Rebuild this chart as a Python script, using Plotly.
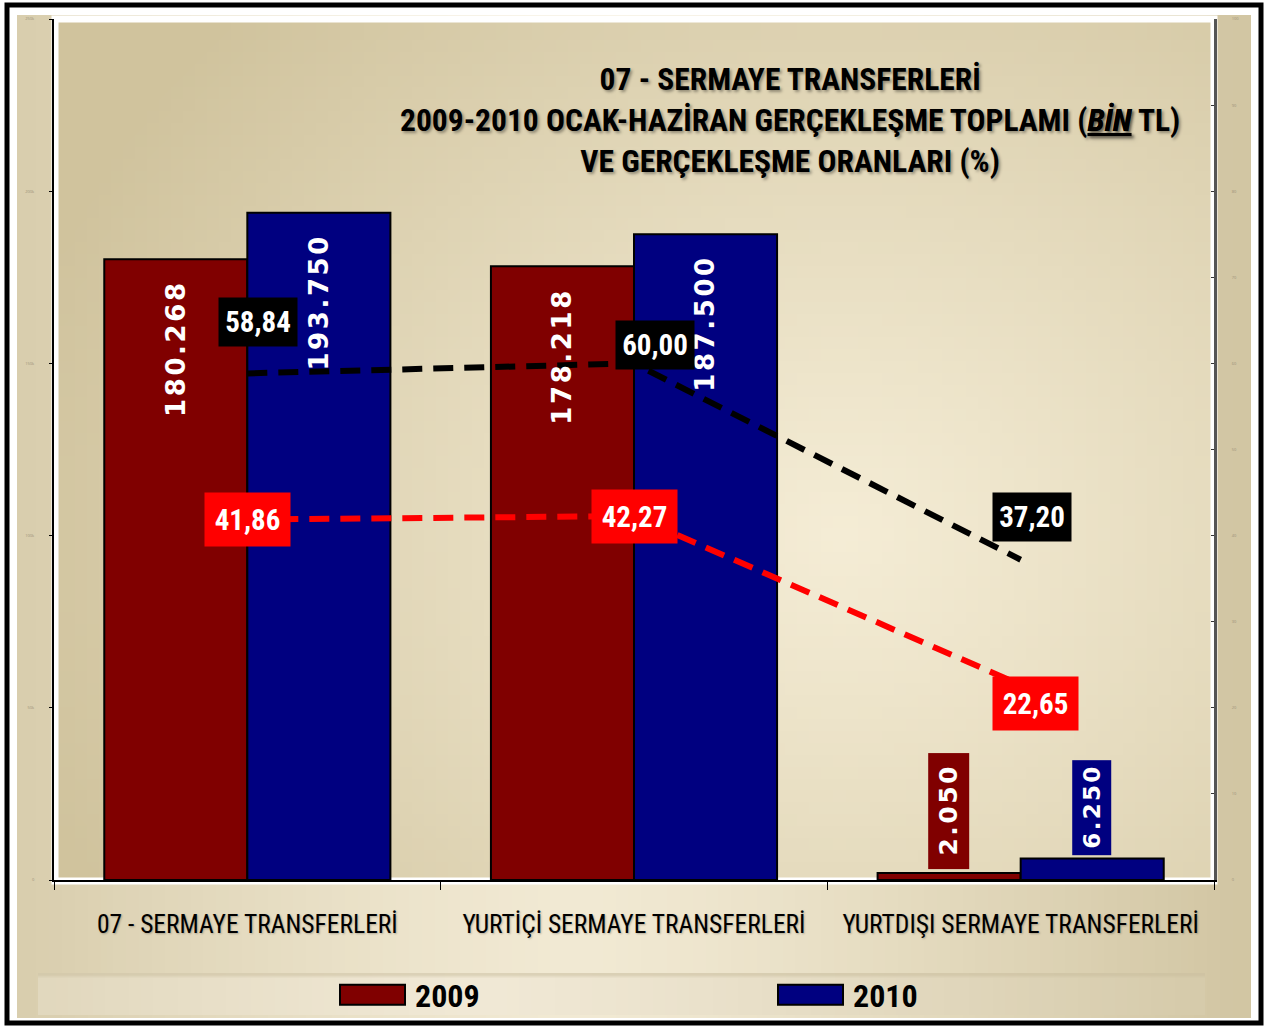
import plotly.graph_objects as go
import zlib, struct, base64, math

# ---------------- data ----------------
categories = ["07 - SERMAYE TRANSFERLERİ", "YURTİÇİ SERMAYE TRANSFERLERİ", "YURTDIŞI SERMAYE TRANSFERLERİ"]
values_2009 = [180268, 178218, 2050]
values_2010 = [193750, 187500, 6250]
labels_2009 = ["180.268", "178.218", "2.050"]
labels_2010 = ["193.750", "187.500", "6.250"]
rate_2009 = [41.86, 42.27, 22.65]
rate_2010 = [58.84, 60.00, 37.20]
rate_labels_2009 = ["41,86", "42,27", "22,65"]
rate_labels_2010 = ["58,84", "60,00", "37,20"]
y_ticks = [0, 50000, 100000, 150000, 200000, 250000]
y2_ticks = [0, 10, 20, 30, 40, 50, 60, 70, 80, 90, 100]
title_text = ("07 - SERMAYE TRANSFERLERİ<br>2009-2010 OCAK-HAZİRAN GERÇEKLEŞME TOPLAMI (<i><u>BİN</u></i> TL)"
              "<br>VE GERÇEKLEŞME ORANLARI (%)")

# ---------------- styling ----------------
W, H = 1267, 1028
ML, MR, MT, MB = 54, 53, 19, 148
PW, PH = W - ML - MR, H - MT - MB
C2009, C2010 = "#800000", "#000080"
NARROW = "Liberation Sans Narrow, Arial Narrow, Roboto Condensed, sans-serif"
WIDE = "DejaVu Sans, Verdana, sans-serif"
HAIR = "\u200a"


def fx(px):
    return (px - ML) / PW


def fy(py):
    return (H - MB - py) / PH


def png_uri(w, h, fn):
    raw = bytearray()
    for j in range(h):
        raw.append(0)
        for i in range(w):
            r, g, b = fn(i / (w - 1), j / (h - 1))
            raw += bytes((int(r), int(g), int(b)))

    def chunk(t, d):
        return struct.pack(">I", len(d)) + t + d + struct.pack(">I", zlib.crc32(t + d) & 0xffffffff)

    png = (b"\x89PNG\r\n\x1a\n" + chunk(b"IHDR", struct.pack(">IIBBBBB", w, h, 8, 2, 0, 0, 0))
           + chunk(b"IDAT", zlib.compress(bytes(raw))) + chunk(b"IEND", b""))
    return "data:image/png;base64," + base64.b64encode(png).decode()


LIGHT = (245, 237, 214)
DARK = (208, 195, 157)


def lerp(a, b, t):
    return tuple(a[k] + (b[k] - a[k]) * t for k in range(3))


def plot_grad(u, v):
    d = math.sqrt(((u - 0.68) / 0.75) ** 2 + ((v - 0.6) / 0.9) ** 2)
    t = min(1.0, d) ** 1.1
    return lerp(LIGHT, DARK, t)


def panel_grad(u, v):
    d = abs(u - 0.45) / 0.55
    t = min(1.0, d) ** 1.3
    return lerp((242, 234, 212), (210, 198, 163), t)


def band_grad(u, v):
    d = abs(u - 0.38) / 0.62
    t = min(1.0, d) ** 1.2
    c = lerp((241, 233, 214), (214, 203, 171), t)
    if v < 0.08:
        c = lerp(c, (200, 188, 155), 0.5)
    return c


images = [
    dict(source=png_uri(96, 8, panel_grad), xref="paper", yref="paper",
         x=fx(17), y=fy(15), sizex=fx(1251) - fx(17), sizey=fy(15) - fy(1018),
         sizing="stretch", layer="below"),
    dict(source=png_uri(96, 12, band_grad), xref="paper", yref="paper",
         x=fx(38), y=fy(973), sizex=fx(1205) - fx(38), sizey=fy(973) - fy(1015),
         sizing="stretch", layer="below"),
    dict(source=png_uri(96, 72, plot_grad), xref="paper", yref="paper",
         x=fx(57), y=fy(22), sizex=fx(1212) - fx(57), sizey=fy(22) - fy(879),
         sizing="stretch", layer="below"),
]

shapes = [
    dict(type="rect", xref="paper", yref="paper", x0=fx(55), x1=fx(1214), y0=fy(881), y1=fy(19),
         line=dict(color="white", width=7), fillcolor="rgba(0,0,0,0)", layer="below"),
    dict(type="rect", xref="paper", yref="paper", x0=fx(7), x1=fx(1261), y0=fy(1023), y1=fy(5),
         line=dict(color="black", width=5), fillcolor="rgba(0,0,0,0)", layer="above"),
]

fig = go.Figure()
fig.add_trace(go.Bar(name="2009", x=categories, y=values_2009, marker=dict(color=C2009, line=dict(color="black", width=2)),
                     hoverinfo="skip"))
fig.add_trace(go.Bar(name="2010", x=categories, y=values_2010, marker=dict(color=C2010, line=dict(color="black", width=2)),
                     hoverinfo="skip"))
fig.add_trace(go.Scatter(x=categories, y=rate_2010, yaxis="y2", mode="lines", showlegend=False,
                         line=dict(color="black", width=6, dash="20px,11px"), hoverinfo="skip"))
fig.add_trace(go.Scatter(x=categories, y=rate_2009, yaxis="y2", mode="lines", showlegend=False,
                         line=dict(color="#ff0000", width=6, dash="20px,11px"), hoverinfo="skip"))

annotations = [dict(text=title_text, xref="paper", yref="paper", x=fx(790), y=fy(59), xanchor="center",
                    yanchor="top", showarrow=False, align="center",
                    font=dict(family=NARROW, size=31.5, color="black", weight="bold",
                              shadow="2px 2px 3px rgba(0,0,0,0.35)"))]
ymax = y_ticks[-1]
half = PW / 3 * 0.74 / 4  # half of bar width offset
series = ((values_2009, labels_2009, C2009, -1, 115, 40), (values_2010, labels_2010, C2010, 1, 94, 38))
for i, cat in enumerate(categories):
    for vals, labs, col, sgn, blen, bwid in series:
        v = vals[i]
        txt = HAIR.join(labs[i])
        if v > 0.1 * ymax:
            annotations.append(dict(x=cat, y=v, xref="x", yref="y", text=txt, textangle=-90, showarrow=False,
                                    xshift=sgn * half, yanchor="top", yshift=-22,
                                    font=dict(family=WIDE, size=26, color="white", weight="bold")))
        else:
            annotations.append(dict(x=cat, y=v, xref="x", yref="y", text=txt, textangle=-90, showarrow=False,
                                    xshift=sgn * half, yanchor="bottom", yshift=3, bgcolor=col,
                                    width=blen, height=bwid, borderpad=0,
                                    font=dict(family=WIDE, size=25 if sgn < 0 else 23, color="white",
                                              weight="bold")))

black_shift = [(11, 51), (21, 18), (11, 43)]
red_shift = [(0, 0), (0, 0), (15, -19)]
for i, cat in enumerate(categories):
    annotations.append(dict(x=cat, y=rate_2010[i], xref="x", yref="y2", text=rate_labels_2010[i], showarrow=False,
                            xshift=black_shift[i][0], yshift=black_shift[i][1], bgcolor="black",
                            width=78, height=48, borderpad=0,
                            font=dict(family=NARROW, size=29, color="white", weight="bold")))
    annotations.append(dict(x=cat, y=rate_2009[i], xref="x", yref="y2", text=rate_labels_2009[i], showarrow=False,
                            xshift=red_shift[i][0], yshift=red_shift[i][1], bgcolor="#ff0000",
                            width=85, height=53, borderpad=0,
                            font=dict(family=NARROW, size=29, color="white", weight="bold")))

fig.update_layout(
    template="none",
    width=W, height=H,
    margin=dict(l=ML, r=MR, t=MT, b=MB, pad=0, autoexpand=False),
    paper_bgcolor="white", plot_bgcolor="rgba(0,0,0,0)",
    barmode="group", bargap=0.26, bargroupgap=0,
    xaxis=dict(type="category", range=[-0.5, 2.5], showline=True, linecolor="black", linewidth=2,
               ticks="outside", tickson="boundaries", ticklen=8, tickcolor="black", tickwidth=1,
               showgrid=False, zeroline=False, ticklabelstandoff=20, automargin=False,
               tickfont=dict(family=NARROW, size=25.5, color="black", shadow="1px 1px 2px rgba(0,0,0,0.25)")),
    yaxis=dict(range=[0, ymax], tickvals=y_ticks, showline=True, linecolor="black", linewidth=2,
               ticks="outside", ticklen=3, tickcolor="black", showgrid=False, zeroline=False, automargin=False,
               ticklabelstandoff=14, tickfont=dict(size=4, color="#9c9279")),
    yaxis2=dict(range=[0, 100], tickvals=y2_ticks, overlaying="y", side="right", showline=True,
                linecolor="#555555", linewidth=3, ticks="inside", ticklen=3, tickcolor="#333333", automargin=False,
                showgrid=False, zeroline=False, ticklabelstandoff=14, tickfont=dict(size=4, color="#9c9279")),
    legend=dict(orientation="h", x=fx(375), xanchor="left", y=fy(995), yanchor="middle",
                entrywidth=393, entrywidthmode="pixels", bgcolor="rgba(0,0,0,0)", borderwidth=0,
                font=dict(family=NARROW, size=32, color="black", weight="bold")),
    images=images, shapes=shapes, annotations=annotations,
    showlegend=True,
)

post_js = """
document.body.style.margin='0';
document.body.style.overflow='hidden';
var gd = document.getElementsByClassName('plotly-graph-div')[0];
function widenSwatches(){
  gd.querySelectorAll('g.legend, g.legend g.scrollbox').forEach(function(e){
    e.removeAttribute('clip-path'); e.style.clipPath='none'; e.style.overflow='visible';
  });
  gd.querySelectorAll('g.legend g.legendpoints path').forEach(function(p){
    p.setAttribute('d','M-55,10H10V-10H-55Z');
    p.style.strokeWidth='2px';
  });
}
widenSwatches();
setTimeout(widenSwatches, 50);
setTimeout(widenSwatches, 300);
if (gd.on) { gd.on('plotly_afterplot', widenSwatches); }
"""

fig.write_html("out.html", config={"displayModeBar": False}, post_script=post_js)
